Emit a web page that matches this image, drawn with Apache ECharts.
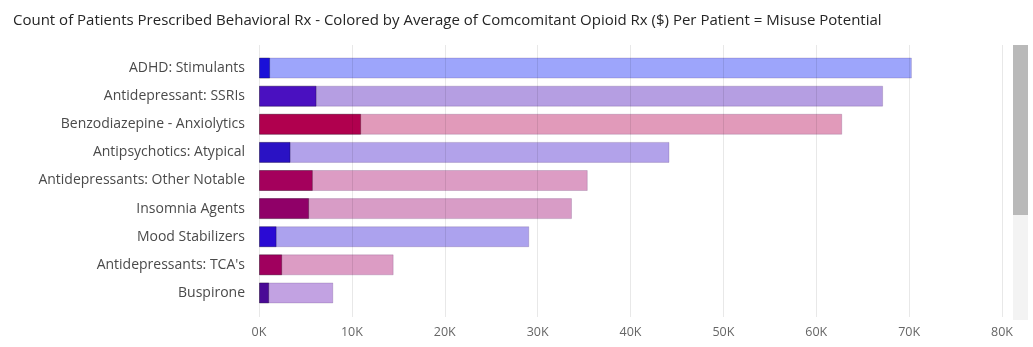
<!DOCTYPE html>
<html>
<head>
<meta charset="utf-8">
<script src="https://cdn.jsdelivr.net/npm/echarts@6/dist/echarts.min.js"></script>
<style>
  html, body { margin: 0; padding: 0; background: #ffffff; }
  #chart { width: 1033px; height: 347px; }
</style>
</head>
<body>
<div id="chart"></div>
<script>
// Behavioral drug classes, top to bottom
const categories = [
  'ADHD: Stimulants',
  'Antidepressant: SSRIs',
  'Benzodiazepine - Anxiolytics',
  'Antipsychotics: Atypical',
  'Antidepressants: Other Notable',
  'Insomnia Agents',
  'Mood Stabilizers',
  "Antidepressants: TCA's",
  'Buspirone'
];

// Count of patients prescribed each class
const patientCount = [70300, 67200, 62800, 44200, 35400, 33700, 29100, 14500, 8000];

// Patients in each class who also have an opioid Rx
const withOpioidRx = [1200, 6200, 11000, 3400, 5800, 5400, 1900, 2500, 1100];

// Colour per class, from blue (low average opioid spend) to red (high)
const strongColors = ['#1a10d8', '#4a10c0', '#b0004e', '#2a12c4', '#a4005c', '#900068', '#2a0ad4', '#a0005e', '#4a0a96'];
const lightColors  = ['#9da5fb', '#b59ee2', '#e19aba', '#b2a2ea', '#dc9cc4', '#d89cc6', '#aca2ee', '#dc9cc4', '#c2a2e2'];

// Value axis ticks
const axisMax = 80000;
const axisStep = 10000;

const FONT = '"Open Sans", "Noto Sans", sans-serif';

const chart = echarts.init(document.getElementById('chart'), null, { renderer: 'canvas' });

chart.setOption({
  animation: false,
  backgroundColor: '#ffffff',
  title: {
    text: 'Count of Patients Prescribed Behavioral Rx - Colored by Average of Comcomitant Opioid Rx ($) Per Patient = Misuse Potential',
    left: 8,
    top: 8,
    textStyle: { fontFamily: FONT, fontSize: 15, fontWeight: 'normal', color: '#252525' }
  },
  grid: [
    // grid carrying the vertical gridlines and the K labels
    { left: 259, right: 31, top: 45, bottom: 30 },
    // grid carrying the bars
    { left: 259, right: 31, top: 54, bottom: 40 }
  ],
  xAxis: [
    {
      gridIndex: 0,
      type: 'value',
      min: 0,
      max: axisMax,
      interval: axisStep,
      z: 5,
      axisLine: { show: false },
      axisTick: { show: false },
      splitLine: { show: true, lineStyle: { color: 'rgba(0,0,0,0.09)', width: 1 } },
      axisLabel: {
        margin: 9,
        fontFamily: FONT,
        fontSize: 12.5,
        color: '#666666',
        formatter: v => (v / 1000) + 'K'
      }
    },
    {
      gridIndex: 1,
      type: 'value',
      min: 0,
      max: axisMax,
      show: false
    }
  ],
  yAxis: [
    { gridIndex: 0, type: 'value', show: false, min: 0, max: 1 },
    {
      gridIndex: 1,
      type: 'category',
      data: categories,
      inverse: true,
      axisLine: { show: false },
      axisTick: { show: false },
      splitLine: { show: false },
      axisLabel: {
        margin: 14,
        fontFamily: FONT,
        fontSize: 14,
        color: '#4a4a4a'
      }
    }
  ],
  series: [
    {
      name: 'Patients',
      type: 'bar',
      xAxisIndex: 1,
      yAxisIndex: 1,
      barWidth: 21,
      barGap: '-100%',
      data: patientCount.map((v, i) => ({
        value: v,
        itemStyle: { color: lightColors[i], borderColor: 'rgba(60,20,90,0.18)', borderWidth: 1 }
      }))
    },
    {
      name: 'Patients with opioid Rx',
      type: 'bar',
      xAxisIndex: 1,
      yAxisIndex: 1,
      barWidth: 21,
      barGap: '-100%',
      data: withOpioidRx.map((v, i) => ({
        value: v,
        itemStyle: { color: strongColors[i], borderColor: 'rgba(0,0,0,0.25)', borderWidth: 1 }
      }))
    }
  ],
  graphic: [
    // visual scrollbar on the right edge
    { type: 'rect', shape: { x: 1013, y: 45, width: 15, height: 275 }, style: { fill: '#f3f3f3' }, silent: true },
    { type: 'rect', shape: { x: 1013, y: 45, width: 15, height: 170 }, style: { fill: '#b9b9b9' }, silent: true }
  ]
});
</script>
</body>
</html>
